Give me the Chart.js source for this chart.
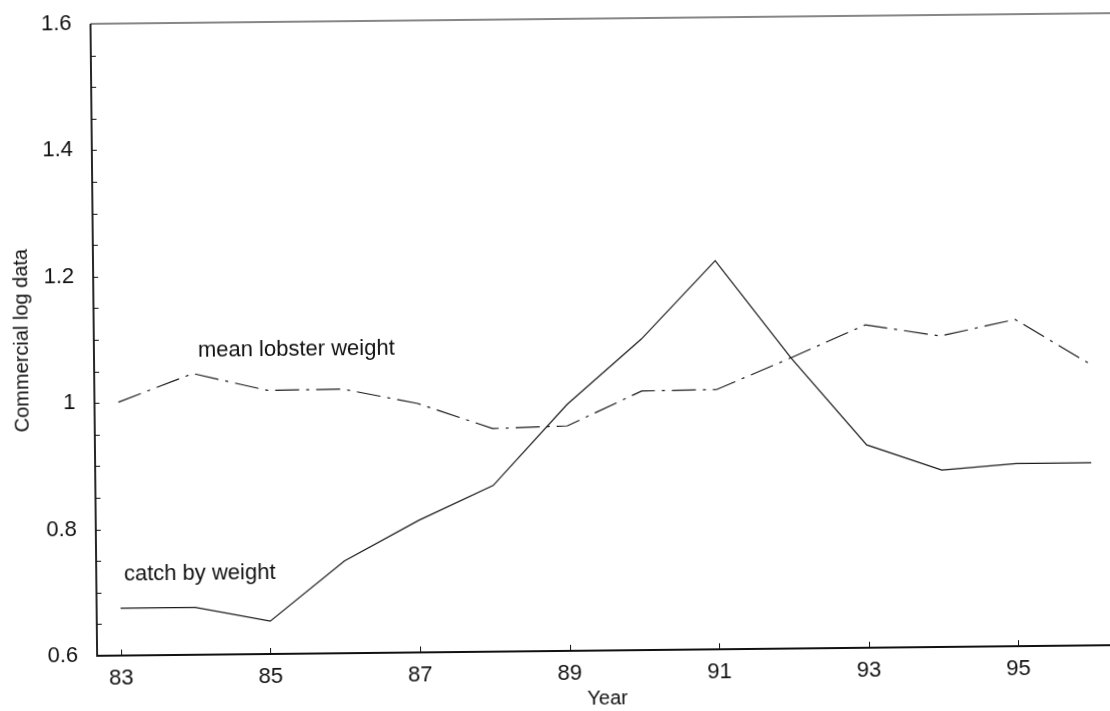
<!DOCTYPE html>
<html>
<head>
<meta charset="utf-8">
<script src="https://cdn.jsdelivr.net/npm/chart.js@4.4.1/dist/chart.umd.min.js"></script>
<style>
  html, body { margin: 0; padding: 0; background: #fff; }
  #wrap { position: relative; width: 1110px; height: 711px; overflow: hidden; background: #fff; }
  #c { position: absolute; left: 0; top: 0; transform: rotate(-0.6deg); transform-origin: 555px 355px; }
</style>
</head>
<body>
<div id="wrap"><canvas id="c" width="1124" height="711"></canvas></div>
<script>
// Survey years (two-digit) and the two commercial log series
const years = [83, 84, 85, 86, 87, 88, 89, 90, 91, 92, 93, 94, 95, 96];
const catchByWeight = [0.675, 0.675, 0.652, 0.746, 0.809, 0.863, 0.990, 1.092, 1.215, 1.060, 0.921, 0.880, 0.889, 0.889];
const meanLobsterWeight = [1.001, 1.045, 1.017, 1.018, 0.994, 0.953, 0.956, 1.010, 1.011, 1.060, 1.111, 1.092, 1.117, 1.045];

// Axis tick labels
const xTickYears = [83, 85, 87, 89, 91, 93, 95];
const yTickLabels = [0.6, 0.8, 1, 1.2, 1.4, 1.6];
const yMinorStep = 0.05;

// In-plot series labels, anchored in data units
const seriesNotes = [
  { text: 'mean lobster weight', year: 84.07, value: 1.071 },
  { text: 'catch by weight', year: 83.05, value: 0.718 }
];

const FONT = '"Liberation Sans", Arial, sans-serif';
const INK = '#111';

const toPoints = (vals) => years.map((y, i) => ({ x: y, y: vals[i] }));

// Open frame (top, left, bottom) with short inward tick marks
const framePlugin = {
  id: 'frame',
  afterDraw(chart) {
    const { ctx, chartArea: a, scales: { x, y } } = chart;
    ctx.save();
    ctx.strokeStyle = INK;
    ctx.lineWidth = 1.2;
    ctx.beginPath();
    ctx.moveTo(a.right, a.top);
    ctx.lineTo(a.left, a.top);
    ctx.stroke();
    ctx.lineWidth = 1.8;
    ctx.beginPath();
    ctx.moveTo(a.left, a.top);
    ctx.lineTo(a.left, a.bottom);
    ctx.lineTo(a.right, a.bottom);
    ctx.stroke();
    ctx.lineWidth = 1;
    ctx.beginPath();
    const n = Math.round((y.max - y.min) / yMinorStep);
    for (let i = 1; i < n; i++) {
      const py = Math.round(y.getPixelForValue(y.min + i * yMinorStep)) + 0.5;
      ctx.moveTo(a.left, py);
      ctx.lineTo(a.left + 5, py);
    }
    xTickYears.forEach(v => {
      const px = Math.round(x.getPixelForValue(v)) + 0.5;
      ctx.moveTo(px, a.bottom);
      ctx.lineTo(px, a.bottom - 6);
    });
    ctx.stroke();
    ctx.restore();
  }
};

const notesPlugin = {
  id: 'notes',
  afterDatasetsDraw(chart) {
    const { ctx, scales: { x, y } } = chart;
    ctx.save();
    ctx.fillStyle = INK;
    ctx.font = '22px ' + FONT;
    ctx.textAlign = 'left';
    ctx.textBaseline = 'alphabetic';
    seriesNotes.forEach(n => {
      ctx.fillText(n.text, x.getPixelForValue(n.year), y.getPixelForValue(n.value));
    });
    ctx.restore();
  }
};

new Chart(document.getElementById('c'), {
  type: 'line',
  data: {
    datasets: [
      {
        label: 'catch by weight',
        data: toPoints(catchByWeight),
        borderColor: '#1a1a1a',
        borderWidth: 1.2,
        pointRadius: 0,
        tension: 0,
        fill: false
      },
      {
        label: 'mean lobster weight',
        data: toPoints(meanLobsterWeight),
        borderColor: '#1a1a1a',
        borderWidth: 1.2,
        borderDash: [24, 7, 3, 7],
        pointRadius: 0,
        tension: 0,
        fill: false
      }
    ]
  },
  options: {
    responsive: false,
    animation: false,
    devicePixelRatio: 1,
    layout: { padding: { top: 19, right: 10, left: 0, bottom: 0 } },
    plugins: { legend: { display: false }, tooltip: { enabled: false } },
    scales: {
      x: {
        type: 'linear',
        min: 82.68,
        max: 96.32,
        grid: { display: false, drawTicks: false },
        border: { display: false },
        afterBuildTicks: (s) => { s.ticks = xTickYears.map(v => ({ value: v })); },
        afterFit: (s) => { s.height = 60; s.paddingLeft = 0; s.paddingRight = 0; },
        ticks: {
          autoSkip: false,
          maxRotation: 0,
          padding: 10,
          color: INK,
          font: { family: FONT, size: 22 },
          callback: (v) => String(v)
        },
        title: {
          display: true,
          text: 'Year',
          color: INK,
          font: { family: FONT, size: 20 },
          padding: { top: 0, bottom: 0 }
        }
      },
      y: {
        type: 'linear',
        min: 0.6,
        max: 1.6,
        grid: { display: false, drawTicks: false },
        border: { display: false },
        afterBuildTicks: (s) => { s.ticks = yTickLabels.map(v => ({ value: v })); },
        afterFit: (s) => { s.width = 94; s.paddingTop = 0; s.paddingBottom = 0; },
        ticks: {
          padding: 19,
          color: INK,
          font: { family: FONT, size: 22 },
          callback: (v) => String(v)
        },
        title: {
          display: true,
          text: 'Commercial log data',
          color: INK,
          font: { family: FONT, size: 20 },
          padding: { top: 10, bottom: 0 }
        }
      }
    }
  },
  plugins: [framePlugin, notesPlugin]
});
</script>
</body>
</html>
